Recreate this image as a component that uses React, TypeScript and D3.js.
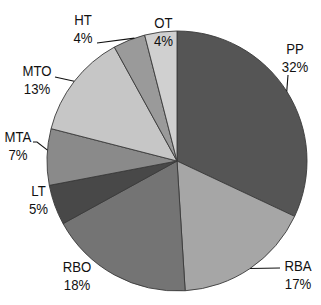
import React from "react";
import * as d3 from "d3";

const categories = ["PP", "RBA", "RBO", "LT", "MTA", "MTO", "HT", "OT"];
const values = [32, 17, 18, 5, 7, 13, 4, 4];
const colors = ["#555555", "#a6a6a6", "#747474", "#484848", "#8a8a8a", "#c6c6c6", "#9a9a9a", "#d0d0d0"];

// label layout (first-line baseline, relative to pie centre) and leader settings
const labelOffsets: [number, number][] = [
  [118, -107], [121, 110], [-100, 111], [-138.5, 35],
  [-159, -19], [-140, -85], [-94, -136], [-13.5, -133],
];
// leader: angle nudge (deg) and subsequent points relative to centre; null = no leader
const leaders: ({ nudge: number; pts: [number, number][] } | null)[] = [
  { nudge: 0, pts: [[111, -86]] },
  { nudge: 0, pts: [[103, 107]] },
  null,
  null,
  { nudge: 3, pts: [[-140, -19], [-144, -19]] },
  { nudge: 0, pts: [[-122, -84]] },
  { nudge: 2.5, pts: [[-80, -118]] },
  null,
];

const W = 321, H = 305;
const cx = 177, cy = 161, R = 130;

export default function App() {
  const pie = d3.pie<number>().sort(null).value((d) => d)(values);
  const arc = d3.arc<d3.PieArcDatum<number>>().innerRadius(0).outerRadius(R);
  const line = d3.line();
  return (
    <svg width={W} height={H} style={{ position: "absolute", left: 0, top: 0, background: "#fff" }}>
      <g transform={`translate(${cx},${cy})`}>
        {pie.map((p, i) => (
          <path key={i} d={arc(p) || ""} fill={colors[i]} stroke="#3a3a3a" strokeWidth={0.9} />
        ))}
        {pie.map((p, i) => {
          const L = leaders[i];
          if (!L) return null;
          const a = (p.startAngle + p.endAngle) / 2 + (L.nudge * Math.PI) / 180;
          const start: [number, number] = [R * Math.sin(a), -R * Math.cos(a)];
          return (
            <path key={"l" + i} d={line([start, ...L.pts]) || ""} fill="none" stroke="#111" strokeWidth={1.1} />
          );
        })}
        {categories.map((c, i) => (
          <g key={"t" + i} transform={`translate(${labelOffsets[i][0]},${labelOffsets[i][1]}) scale(0.88,1)`}>
            <text x={0} y={0} textAnchor="middle"
              fontFamily="'Liberation Sans', Arial, sans-serif" fontSize={15} fill="#111">
              <tspan x={0}>{c}</tspan>
              <tspan x={0} dy={18.5}>{values[i]}%</tspan>
            </text>
          </g>
        ))}
      </g>
    </svg>
  );
}
